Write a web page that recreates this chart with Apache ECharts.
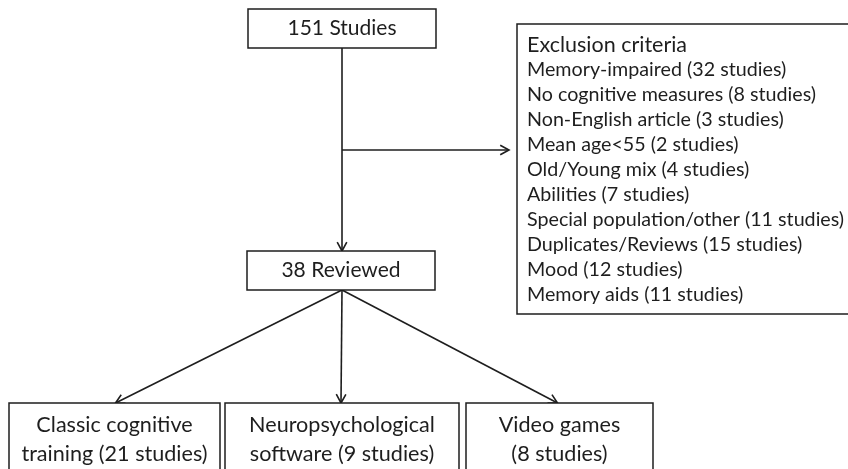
<!DOCTYPE html>
<html>
<head>
<meta charset="utf-8">
<script src="https://cdn.jsdelivr.net/npm/echarts@6/dist/echarts.min.js"></script>
<style>
  html, body { margin: 0; padding: 0; background: #fff; }
  #chart { width: 848px; height: 469px; }
</style>
</head>
<body>
<div id="chart"></div>
<script>
// study counts
const totalStudies = 151
const reviewedStudies = 38
const exclusionReasons = ['Memory-impaired', 'No cognitive measures', 'Non-English article', 'Mean age<55', 'Old/Young mix', 'Abilities', 'Special population/other', 'Duplicates/Reviews', 'Mood', 'Memory aids']
const exclusionCounts = [32, 8, 3, 2, 4, 7, 11, 15, 12, 11]
const groupNames = ['Classic cognitive\ntraining', 'Neuropsychological\nsoftware', 'Video games\n']
const groupCounts = [21, 9, 8]

// layout of the diagram, in units of the hidden axes (pixels of the 848x469 figure)
const layout = {
  top: [248, 9, 436, 48],
  reviewed: [247, 251, 435, 290],
  exclusion: [517, 24, 852, 314],
  groups: [[9, 403, 220, 480], [225, 403, 459, 480], [466, 403, 653, 480]],
  trunkX: 342,
  branchY: 150
}

const INK = '#1e1e1e'
const FONT = 'Lato'

function studies(n) { return '(' + n + ' studies)' }

// boxes: [x0, y0, x1, y1], label
const boxData = [
  { value: layout.top, label: totalStudies + ' Studies', size: 21 },
  { value: layout.reviewed, label: reviewedStudies + ' Reviewed', size: 21 }
]
groupNames.forEach((name, i) => {
  const lines = name.split('\n')
  const text = lines[1] ? lines[0] + '\n' + lines[1] + ' ' + studies(groupCounts[i]) : lines[0] + '\n' + studies(groupCounts[i])
  boxData.push({ value: layout.groups[i], label: text, size: 21.6 })
})

const exclusionLines = ['Exclusion criteria'].concat(exclusionReasons.map((r, i) => r + ' ' + studies(exclusionCounts[i])))

// arrows: [x0, y0, x1, y1]
const rv = layout.reviewed
const arrowData = [
  [layout.trunkX, layout.top[3], layout.trunkX, rv[1]],
  [layout.trunkX, layout.branchY, layout.exclusion[0] - 8, layout.branchY]
]
layout.groups.forEach(g => {
  arrowData.push([layout.trunkX, rv[3], (g[0] + g[2]) / 2 + (g[0] < 200 ? 1 : g[0] > 400 ? -2 : -1), g[1]])
})

const chart = echarts.init(document.getElementById('chart'))

function renderBox(params, api) {
  const p0 = api.coord([api.value(0), api.value(1)])
  const p1 = api.coord([api.value(2), api.value(3)])
  const item = boxData[params.dataIndex]
  const lines = item.label.split('\n')
  const cx = (p0[0] + p1[0]) / 2
  const children = [{
    type: 'rect',
    shape: { x: p0[0], y: p0[1], width: p1[0] - p0[0], height: p1[1] - p0[1] },
    style: { fill: '#fff', stroke: INK, lineWidth: 1.5 }
  }]
  if (lines.length === 1) {
    children.push({
      type: 'text',
      style: { text: lines[0], x: cx, y: (p0[1] + p1[1]) / 2, fill: INK, fontSize: item.size, fontFamily: FONT, align: 'center', verticalAlign: 'middle' }
    })
  } else {
    lines.forEach((t, k) => {
      children.push({
        type: 'text',
        style: { text: t, x: cx, y: p0[1] + 22 + k * 29, fill: INK, fontSize: item.size, fontFamily: FONT, align: 'center', verticalAlign: 'middle' }
      })
    })
  }
  return { type: 'group', children: children }
}

function renderExclusion(params, api) {
  const p0 = api.coord([api.value(0), api.value(1)])
  const p1 = api.coord([api.value(2), api.value(3)])
  const children = [{
    type: 'rect',
    shape: { x: p0[0], y: p0[1], width: p1[0] - p0[0], height: p1[1] - p0[1] },
    style: { fill: '#fff', stroke: INK, lineWidth: 1.5 }
  }]
  exclusionLines.forEach((t, k) => {
    children.push({
      type: 'text',
      style: { text: t, x: p0[0] + 10, y: p0[1] + 21 + k * 25, fill: INK, fontSize: k === 0 ? 21.5 : 19.7, fontFamily: FONT, align: 'left', verticalAlign: 'middle' }
    })
  })
  return { type: 'group', children: children }
}

function renderArrow(params, api) {
  const a = api.coord([api.value(0), api.value(1)])
  const b = api.coord([api.value(2), api.value(3)])
  const ang = Math.atan2(b[1] - a[1], b[0] - a[0])
  const len = 10, spread = 0.5
  const h1 = [b[0] - len * Math.cos(ang - spread), b[1] - len * Math.sin(ang - spread)]
  const h2 = [b[0] - len * Math.cos(ang + spread), b[1] - len * Math.sin(ang + spread)]
  return {
    type: 'group',
    children: [
      { type: 'line', shape: { x1: a[0], y1: a[1], x2: b[0], y2: b[1] }, style: { stroke: INK, lineWidth: 1.6 } },
      { type: 'polyline', shape: { points: [h1, b, h2] }, style: { stroke: INK, lineWidth: 1.6, fill: null } }
    ]
  }
}

const option = {
  animation: false,
  backgroundColor: '#fff',
  grid: { left: 0, right: 0, top: 0, bottom: 0 },
  xAxis: { type: 'value', min: 0, max: 848, show: false },
  yAxis: { type: 'value', min: 0, max: 469, inverse: true, show: false },
  series: [
    {
      type: 'custom',
      name: 'arrows',
      clip: false,
      renderItem: renderArrow,
      data: arrowData,
      z: 1
    },
    {
      type: 'custom',
      name: 'boxes',
      clip: false,
      renderItem: renderBox,
      data: boxData.map(b => b.value),
      z: 2
    },
    {
      type: 'custom',
      name: 'exclusion',
      clip: false,
      renderItem: renderExclusion,
      data: [layout.exclusion],
      z: 2
    }
  ]
}

chart.setOption(option)
</script>
</body>
</html>
